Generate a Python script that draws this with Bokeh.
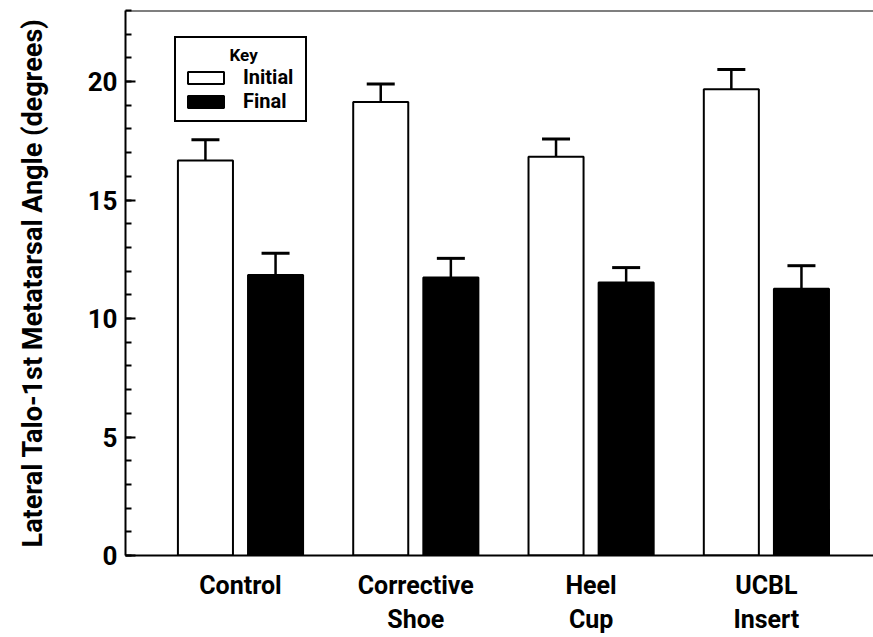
import numpy as np
from bokeh.plotting import figure
from bokeh.models import (ColumnDataSource, FixedTicker, SingleIntervalTicker,
                          Whisker, TeeHead, Legend, LegendItem, Span)
from bokeh.embed import file_html
from bokeh.resources import INLINE

categories = ["Control", "Corrective\nShoe", "Heel\nCup", "UCBL\nInsert"]
initial_mean = [16.67, 19.14, 16.83, 19.68]
initial_upper = [17.55, 19.90, 17.58, 20.51]
final_mean = [11.84, 11.73, 11.52, 11.26]
final_upper = [12.76, 12.54, 12.15, 12.23]

FONT = "Roboto"
idx = np.arange(len(categories))
src = ColumnDataSource(dict(
    xi=idx - 0.2, xf=idx + 0.2,
    im=initial_mean, iu=initial_upper,
    fm=final_mean, fu=final_upper,
))

p = figure(width=873, height=637, x_range=(-0.656, 3.611), y_range=(0, 23),
           output_backend="svg", toolbar_location=None,
           min_border_left=125, min_border_right=0, min_border_top=10,
           min_border_bottom=82)
p.outline_line_color = None
p.xgrid.visible = False
p.ygrid.visible = False

r1 = p.vbar(x="xi", top="im", width=0.314, bottom=0, source=src,
            fill_color="white", line_color="black", line_width=2)
r2 = p.vbar(x="xf", top="fm", width=0.314, bottom=0, source=src,
            fill_color="black", line_color="black", line_width=2)

for base, lo, up in (("xi", "im", "iu"), ("xf", "fm", "fu")):
    w = Whisker(base=base, lower=lo, upper=up, source=src, dimension="height",
                line_color="black", line_width=2.5, lower_head=None,
                upper_head=TeeHead(size=28, line_width=3, line_color="black"))
    p.add_layout(w)

p.add_layout(Span(location=23, dimension="width", line_color="black", line_width=2))

# y axis
ya = p.yaxis[0]
ya.ticker = SingleIntervalTicker(interval=5, num_minor_ticks=5)
ya.major_tick_in = 10
ya.major_tick_out = 0
ya.minor_tick_in = 6
ya.minor_tick_out = 0
ya.axis_line_width = 2
ya.major_tick_line_width = 2
ya.minor_tick_line_width = 2
ya.major_label_text_font = FONT
ya.major_label_text_font_style = "bold"
ya.major_label_text_font_size = "26px"
ya.major_label_text_color = "black"
ya.major_label_standoff = 8
ya.axis_label = "Lateral Talo-1st Metatarsal Angle (degrees)"
ya.axis_label_text_font = FONT
ya.axis_label_text_font_style = "bold"
ya.axis_label_text_font_size = "27px"
ya.axis_label_text_color = "black"
ya.axis_label_standoff = 36

# x axis
xa = p.xaxis[0]
xa.ticker = FixedTicker(ticks=list(idx))
xa.major_label_overrides = {int(i): c for i, c in zip(idx, categories)}
xa.major_tick_in = 0
xa.major_tick_out = 0
xa.minor_tick_in = 0
xa.minor_tick_out = 0
xa.axis_line_width = 2
xa.major_label_text_font = FONT
xa.major_label_text_font_style = "bold"
xa.major_label_text_font_size = "25px"
xa.major_label_text_color = "black"
xa.major_label_standoff = 15

legend = Legend(items=[LegendItem(label="Initial", renderers=[r1]),
                       LegendItem(label="Final", renderers=[r2])],
                location=(49, 433), title="\u00a0" * 11 + "Key",
                title_text_font=FONT, title_text_font_style="bold",
                title_text_font_size="17px", title_standoff=0,
                title_text_color="black",
                label_text_font=FONT, label_text_font_style="bold",
                label_text_font_size="20px", label_text_color="black",
                glyph_width=45, glyph_height=15, label_standoff=15,
                label_height=20, label_width=55, padding=7, spacing=0, margin=0,
                border_line_color="black", border_line_width=2,
                border_line_alpha=1,
                background_fill_color="white", background_fill_alpha=1)
p.add_layout(legend)

open("out.html", "w").write(file_html(p, INLINE))
